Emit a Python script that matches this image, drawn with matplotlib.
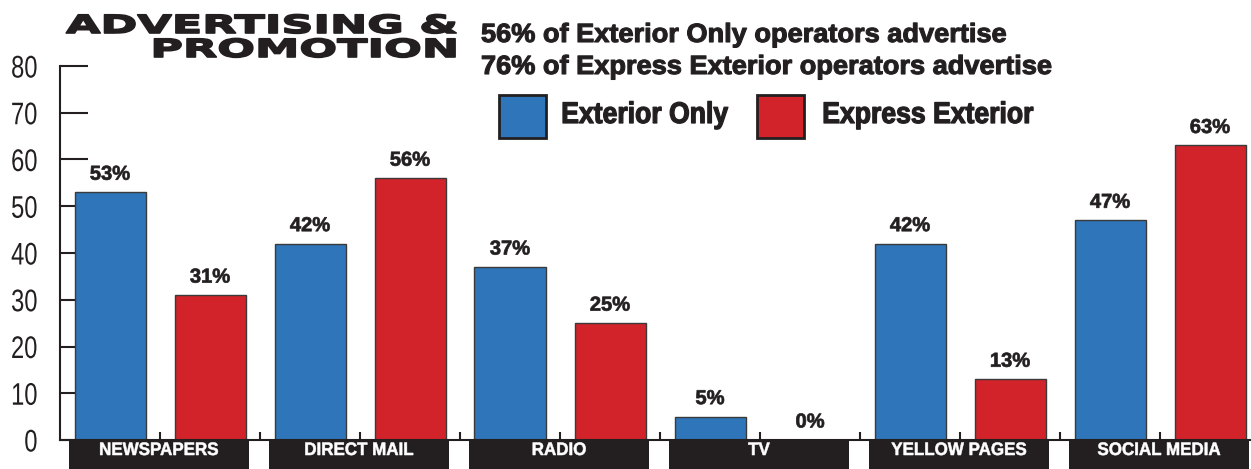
import numpy as np
import matplotlib
matplotlib.use("Agg")
import matplotlib.pyplot as plt
import matplotlib.patheffects as pe
from matplotlib.patches import Rectangle
from matplotlib.transforms import Affine2D

categories = ["NEWSPAPERS", "DIRECT MAIL", "RADIO", "TV", "YELLOW PAGES", "SOCIAL MEDIA"]
exterior_only = [53, 42, 37, 5, 42, 47]
express_exterior = [31, 56, 25, 0, 13, 63]
series_names = ["Exterior Only", "Express Exterior"]
summary_lines = [
    "56% of Exterior Only operators advertise",
    "76% of Express Exterior operators advertise",
]
title_lines = ["ADVERTISING &", "PROMOTION"]
yticks = [0, 10, 20, 30, 40, 50, 60, 70, 80]

BLUE = "#2e75b9"
RED = "#d2232a"
INK = "#231f20"
FONT = "Liberation Sans"


class HStretch(pe.AbstractPathEffect):
    """Scale a text path horizontally around its ink edge, optionally fattening it."""

    def __init__(self, sx, anchor="center", stroke=0.0):
        super().__init__()
        self.sx = sx
        self.anchor = anchor
        self.stroke = stroke

    def draw_path(self, renderer, gc, tpath, affine, rgbFace=None):
        ext = affine.transform_path(tpath).get_extents()
        x0 = {"left": ext.x0, "center": 0.5 * (ext.x0 + ext.x1), "right": ext.x1}[self.anchor]
        stretch = Affine2D().translate(-x0, 0).scale(self.sx, 1).translate(x0, 0)
        gc0 = renderer.new_gc()
        gc0.copy_properties(gc)
        if self.stroke > 0:
            gc0.set_linewidth(self.stroke)
            gc0.set_foreground(rgbFace)
            gc0.set_joinstyle("round")
        else:
            gc0.set_linewidth(0)
        renderer.draw_path(gc0, tpath, affine + stretch, rgbFace)
        gc0.restore()


W, H = 1251, 469
fig = plt.figure(figsize=(W / 100, H / 100), dpi=100)


def fx(x):
    return x / W


def fy(y):
    return 1 - y / H


ax = fig.add_axes([fx(60), fy(440), 1191 / W, 374 / H])
ax.set_axisbelow(True)

n = len(categories)
blue_x = np.arange(n) * 2 + 0.5
red_x = blue_x + 1
ax.bar(blue_x, exterior_only, width=0.71, color=BLUE, edgecolor="#3a3a3a", linewidth=1)
ax.bar(red_x, express_exterior, width=0.71, color=RED, edgecolor="#3a3a3a", linewidth=1)

for xs, vals in ((blue_x, exterior_only), (red_x, express_exterior)):
    for x, v in zip(xs, vals):
        ax.annotate(f"{v}%", (x, v), xytext=(0, 9), textcoords="offset points",
                    ha="center", va="baseline", fontsize=14.5, fontweight="bold",
                    family=FONT, color=INK, path_effects=[HStretch(1.0, stroke=0.5)])

ax.set_xlim(0, 11.91)
ax.set_ylim(0, 80)
ax.set_yticks(yticks)
ax.set_xticks(np.arange(1, 2 * n))
ax.tick_params(axis="x", direction="in", length=6, width=1.5, color=INK, labelbottom=False)
ax.tick_params(axis="y", direction="in", length=20, width=1.5, color=INK, pad=16,
               labelsize=22.5, labelcolor=INK)
for side in ("top", "right"):
    ax.spines[side].set_visible(False)
for side in ("left", "bottom"):
    ax.spines[side].set_linewidth(1.5)
    ax.spines[side].set_color(INK)
for lbl in ax.get_yticklabels():
    lbl.set_family(FONT)
    lbl.set_path_effects([HStretch(0.76, "right")])

# black category plates under each pair
trans = ax.get_xaxis_transform()
for g, name in enumerate(categories):
    ax.add_patch(Rectangle((2 * g + 0.09, -0.09), 1.8, 0.086, transform=trans,
                           facecolor=INK, edgecolor="none", clip_on=False))
    ax.text(2 * g + 0.99, -0.0401, name, transform=trans, ha="center", va="baseline",
            color="white", fontsize=13, fontweight="bold", family=FONT,
            path_effects=[HStretch(0.94, stroke=0.4)])

# heading
for text, y in zip(title_lines, [33, 57]):
    fig.text(fx(457), fy(y), text, ha="right", va="baseline", fontsize=18,
             fontweight="bold", family="DejaVu Sans", color=INK,
             path_effects=[HStretch(1.78, "right", stroke=1.2)])

for text, y in zip(summary_lines, [42, 74]):
    fig.text(fx(481), fy(y), text, ha="left", va="baseline", fontsize=19,
             fontweight="bold", family=FONT, color=INK,
             path_effects=[HStretch(1.03, "left", stroke=0.8)])

# legend
for name, color, bx, tx in zip(series_names, [BLUE, RED], [499, 757], [561, 822]):
    fig.add_artist(Rectangle((fx(bx), fy(138)), 47 / W, 43 / H, transform=fig.transFigure,
                             facecolor=color, edgecolor=INK, linewidth=2))
    fig.text(fx(tx), fy(123), name, ha="left", va="baseline", fontsize=21.5,
             fontweight="bold", family=FONT, color=INK,
             path_effects=[HStretch(0.89, "left", stroke=0.9)])

fig.savefig("out.png", dpi=100)
